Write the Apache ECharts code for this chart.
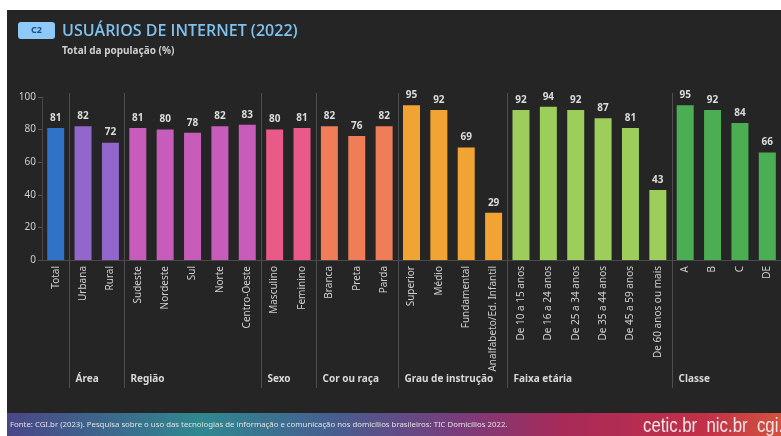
<!DOCTYPE html>
<html>
<head>
<meta charset="utf-8">
<script src="https://cdn.jsdelivr.net/npm/echarts@6/dist/echarts.min.js"></script>
<style>
html,body{margin:0;padding:0;background:#fff;}
#c{width:781px;height:436px;}
</style>
</head>
<body>
<div id="c"></div>
<script>
const categories = ["Total","Urbana","Rural","Sudeste","Nordeste","Sul","Norte","Centro-Oeste","Masculino","Feminino","Branca","Preta","Parda","Superior","Médio","Fundamental","Analfabeto/Ed. Infantil","De 10 a 15 anos","De 16 a 24 anos","De 25 a 34 anos","De 35 a 44 anos","De 45 a 59 anos","De 60 anos ou mais","A","B","C","DE"];
const values = [81,82,72,81,80,78,82,83,80,81,82,76,82,95,92,69,29,92,94,92,87,81,43,95,92,84,66];
const groupNames = ["","Área","Região","Sexo","Cor ou raça","Grau de instrução","Faixa etária","Classe"];
const groupSizes = [1,2,5,2,3,4,6,4];
const groupColors = ["#2f73c6","#9366cc","#c85cba","#e95a88","#ee7d58","#f1a433","#9dce5b","#4bae52"];
const yTicks = [0,20,40,60,80,100];

const chart = echarts.init(document.getElementById('c'), null, {renderer:'canvas'});
const FONT = "Noto Sans";

const barColors = [];
groupSizes.forEach((n,g)=>{for(let i=0;i<n;i++) barColors.push(groupColors[g]);});

chart.setOption({
  animation:false,
  backgroundColor:'#ffffff',
  grid:{left:42,width:740,top:97,bottom:176,containLabel:false},
  xAxis:{
    type:'category',
    data:categories,
    axisLine:{lineStyle:{color:'#4a4a4a',width:1}},
    axisTick:{show:false},
    axisLabel:{rotate:90,color:'#cfcfcf',fontSize:10,fontFamily:FONT,margin:6,interval:0}
  },
  yAxis:{
    type:'value',min:yTicks[0],max:yTicks[yTicks.length-1],interval:20,
    axisLine:{show:true,lineStyle:{color:'#4e4646'}},
    axisTick:{show:true,length:4,lineStyle:{color:'#5a5050'}},
    splitLine:{show:false},
    axisLabel:{color:'#cfcfcf',fontSize:10,fontFamily:FONT,margin:6}
  },
  series:[{
    type:'bar',
    data:values.map((v,i)=>({value:v,itemStyle:{color:barColors[i]}})),
    barWidth:17,
    label:{show:true,position:'top',distance:5,color:'#dcdcdc',fontSize:10,fontWeight:'bold',fontFamily:FONT}
  }]
});

const px = i => chart.convertToPixel({xAxisIndex:0}, i);
const elements = [];
elements.push({type:'rect',z:-10,shape:{x:7,y:10,width:774,height:426},style:{fill:'#252525'}});
elements.push({type:'rect',z:-5,shape:{x:7,y:413,width:774,height:23},style:{fill:new echarts.graphic.LinearGradient(0,0,1,0,[
  {offset:0,color:'#4a4688'},{offset:0.25,color:'#2f8890'},{offset:0.42,color:'#465e90'},{offset:0.58,color:'#783c7c'},{offset:0.72,color:'#a82a58'},{offset:0.9,color:'#c23048'},{offset:1,color:'#d2523e'}])}});
let idx = 0;
groupSizes.forEach((n,g)=>{
  if(g>0){
    const xb = Math.round((px(idx-1)+px(idx))/2)+0.5;
    elements.push({type:'line',shape:{x1:xb,y1:93,x2:xb,y2:388},style:{stroke:'#4f4f4f',lineWidth:1}});
    elements.push({type:'text',x:xb+6,y:379,style:{text:groupNames[g],fill:'#d8d8d8',font:'bold 10px "'+FONT+'"',textVerticalAlign:'middle'}});
  }
  idx += n;
});
elements.push({type:'rect',shape:{x:18,y:22,width:37,height:17,r:3},style:{fill:'#8ec9f7'}});
elements.push({type:'text',x:36.5,y:30.5,style:{text:'C2',fill:'#1d4f82',font:'bold 9px "'+FONT+'"',textAlign:'center',textVerticalAlign:'middle'}});
elements.push({type:'text',x:62,y:31,style:{text:'USUÁRIOS DE INTERNET (2022)',fill:'#7ec2f0',font:'600 16px "Open Sans"',textVerticalAlign:'middle'}});
elements.push({type:'text',x:62,y:51,style:{text:'Total da população (%)',fill:'#cfcfcf',font:'bold 10px "'+FONT+'"',textVerticalAlign:'middle'}});
elements.push({type:'text',x:10,y:425,style:{text:'Fonte: CGI.br (2023). Pesquisa sobre o uso das tecnologias de informação e comunicação nos domicílios brasileiros: TIC Domicílios 2022.',fill:'#e2e2e2',font:'7.8px "'+FONT+'"',textVerticalAlign:'middle'}});
elements.push({type:'text',x:643,y:426,scaleX:0.8,scaleY:1,originX:0,originY:0,style:{text:'cetic.br  nic.br  cgi.br',fill:'#f3e6e6',font:'21px "Liberation Sans"',textVerticalAlign:'middle'}});
chart.setOption({graphic:{elements:elements}});
</script>
</body>
</html>
